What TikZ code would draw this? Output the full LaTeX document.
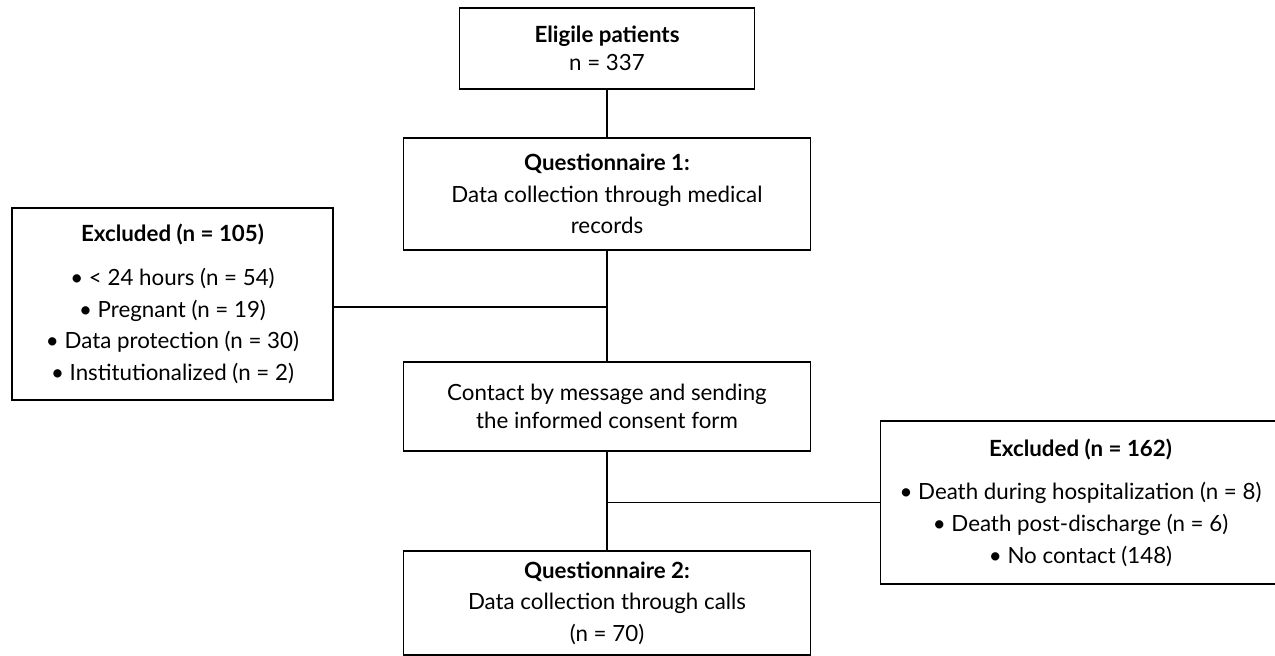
\documentclass[tikz,border=0pt]{standalone}
\usepackage{fontspec}
\setmainfont{Lato}
\usetikzlibrary{positioning}
\tikzstyle{block} = [rectangle, draw, fill=white, align=center, inner sep=0pt,
                 line width=0.8pt, font=\fontsize{12.7}{18}\selectfont]
\tikzstyle{branch} = [line width=0.8pt, draw]
\tikzset{
	tight/.style={font=\fontsize{12.7}{16}\selectfont},
}

\begin{document}
\begin{tikzpicture}[x=0.02cm, y=-0.02cm]
\useasboundingbox (0,0) rectangle (1275,656);

% main column
\node [block, tight, minimum width=5.9cm, minimum height=1.62cm] at (607,48.5) (elig)
	{\textbf{Eligile patients}\\n = 337};
\node [block, minimum width=8.14cm, minimum height=2.24cm] at (607,194) (quest1)
	{\textbf{Questionnaire 1:}\\Data collection through medical\\records};
\node [block, tight, minimum width=8.14cm, minimum height=1.78cm] at (607,406.5) (contact)
	{Contact by message and sending\\the informed consent form};
\node [block, minimum width=8.14cm, minimum height=2.08cm] at (607,603) (quest2)
	{\textbf{Questionnaire 2:}\\Data collection through calls\\(n = 70)};

% exclusions
\node [block, minimum width=6.42cm, minimum height=3.84cm] at (172.5,304) (excl1)
	{\textbf{Excluded (n = 105)}\\[7pt]• < 24 hours (n = 54)\\• Pregnant (n = 19)\\
	 • Data protection (n = 30)\\• Institutionalized (n = 2)};
\node [block, minimum width=8.0cm, minimum height=3.26cm] at (1080.5,502.5) (excl2)
	{\textbf{Excluded (n = 162)}\\[7pt]• Death during hospitalization (n = 8)\\
	 • Death post-discharge (n = 6)\\• No contact (148)};

\coordinate (join1) at (607,307);

\path [branch] (elig.south) -- (quest1.north);
\path [branch] (quest1.south) -- (contact.north);
\path [branch] (contact.south) -- (quest2.north);
\path [branch] (join1 -| excl1.east) -- (join1);
\path [branch] (contact.south |- excl2.west) -- (excl2.west);

\end{tikzpicture}
\end{document}
